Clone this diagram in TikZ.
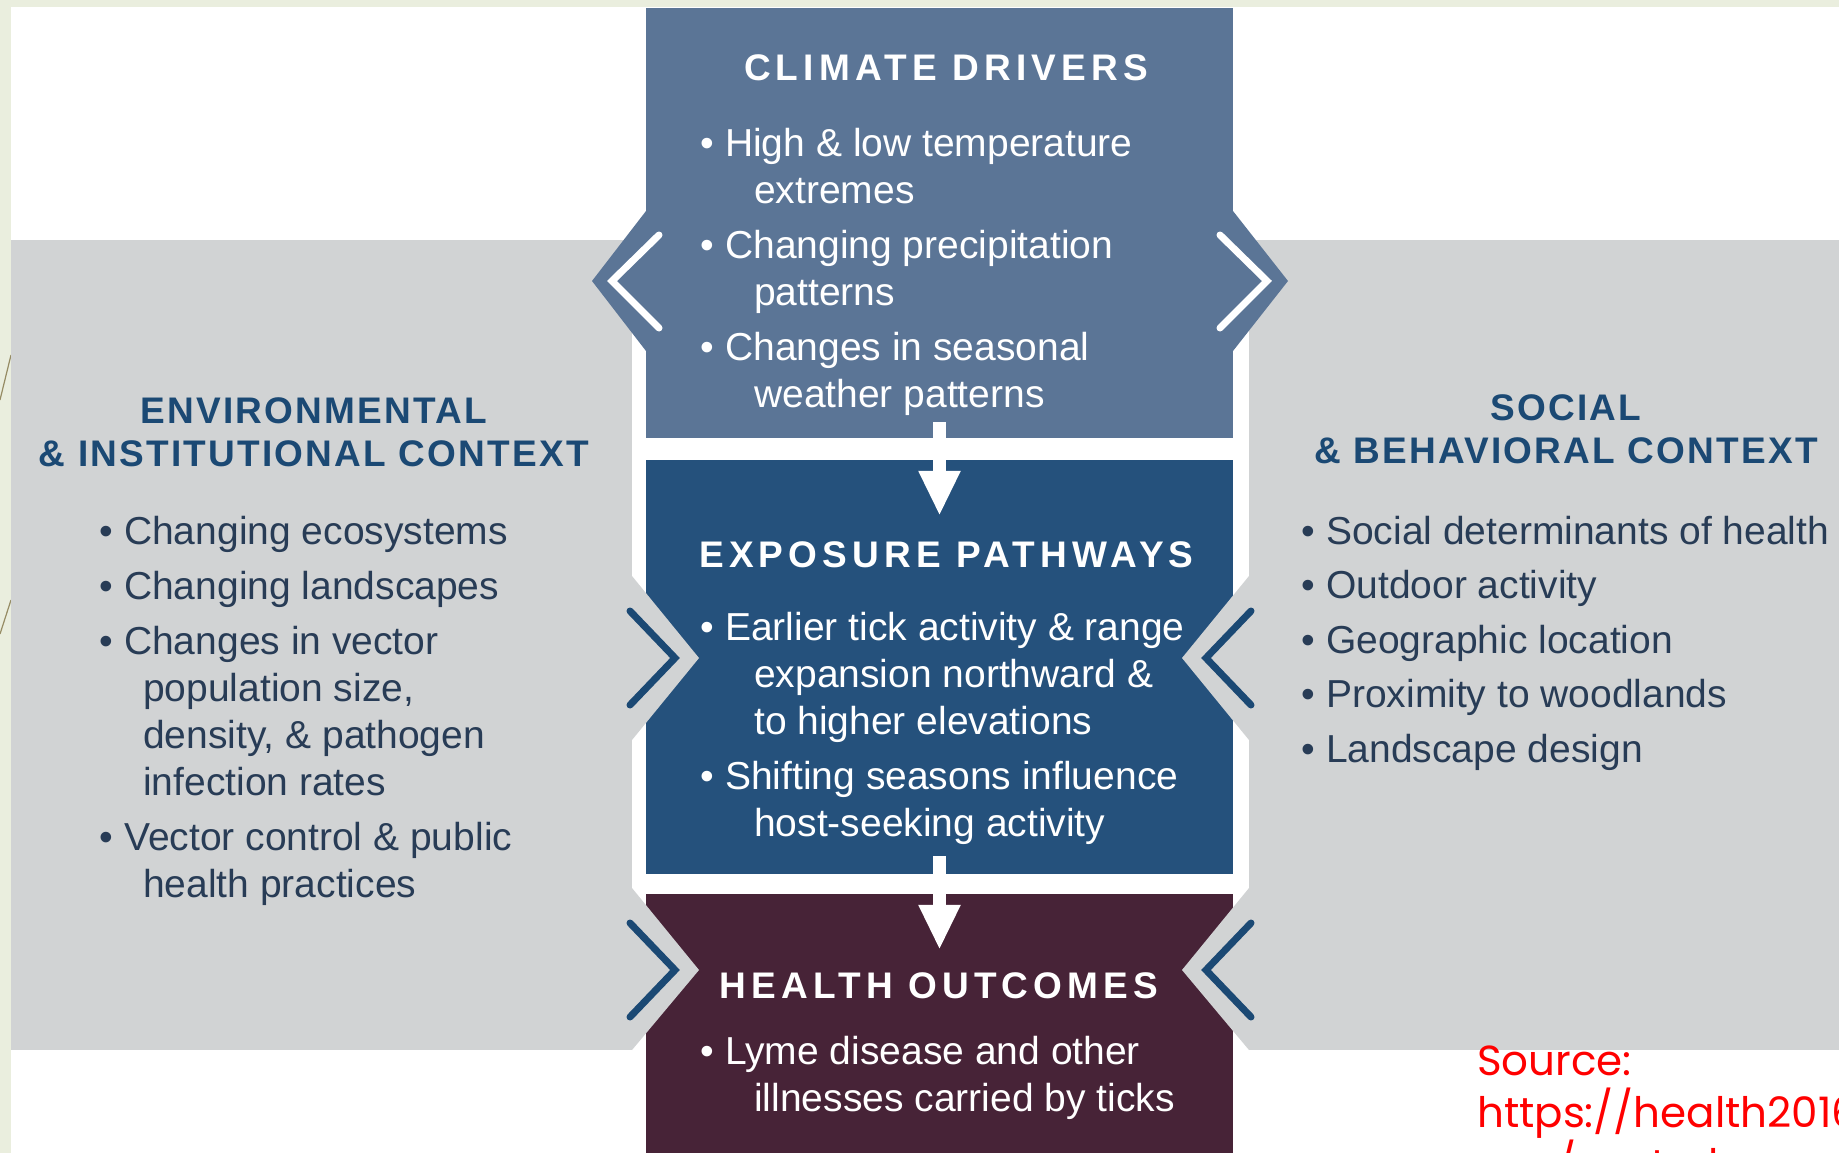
\documentclass[tikz,border=0pt]{standalone}
\usepackage{fontspec}
\setmainfont{Liberation Sans}
\newfontfamily\boxheadfont[LetterSpace=14]{Liberation Sans}
\newfontfamily\sideheadfont[LetterSpace=6]{Liberation Sans}
\newfontfamily\sourcefont{Poppins}
\usetikzlibrary{arrows.meta,positioning,calc}
\definecolor{slidegreen}{RGB}{234,238,222}
\definecolor{slideline}{RGB}{150,140,100}
\definecolor{panelgray}{RGB}{209,211,212}
\definecolor{climblue}{RGB}{91,117,150}
\definecolor{expoblue}{RGB}{37,81,124}
\definecolor{healthplum}{RGB}{71,35,55}
\definecolor{ctxnavy}{RGB}{27,73,116}
\definecolor{ctxink}{RGB}{40,60,86}
\definecolor{sourcered}{RGB}{255,0,0}

\begin{document}
\begin{tikzpicture}[x=1pt,y=-1pt,
  stage/.style={rectangle,inner sep=0pt,minimum width=587pt},
  boxhead/.style={anchor=base,text=white,font=\boxheadfont\bfseries\fontsize{37}{43}\selectfont},
  sidehead/.style={anchor=north,align=center,inner sep=0pt,text=ctxnavy,
                   font=\sideheadfont\bfseries\fontsize{37}{43}\selectfont},
  boxlist/.style={anchor=north west,align=left,inner sep=0pt,text=white,font=\fontsize{39}{47}\selectfont},
  sidelist/.style={boxlist,text=ctxink},
  flow/.style={draw=white,line width=13pt,-{Triangle[length=45pt,width=39pt]}},
  chev/.style={line width=7pt,line cap=round}
]
\useasboundingbox (0,0) rectangle (1839,1153);
\clip (0,0) rectangle (1839,1153);

% slide behind the figure
\fill[slidegreen] (0,0) rectangle (1839,1153);
\fill[white] (11,7) rectangle (1839,1153);
\draw[slideline,line width=1.2pt] (0,400) -- (11,355);
\draw[slideline,line width=1.2pt] (0,634) -- (11,600);

% context panels
\fill[panelgray] (11,240) rectangle (632,1050);
\fill[panelgray] (1249,240) rectangle (1839,1050);

% the three stages
\node[stage,fill=climblue,minimum height=430pt] (clim) at (939.5,223) {};
\node[stage,fill=expoblue,minimum height=414pt] (expo) at (939.5,667) {};
\node[stage,fill=healthplum,minimum height=270pt] (heal) at (939.5,1029) {};

% climate drivers push out into both contexts
\fill[climblue] (646,211) -- (592,281) -- (646,351) -- cycle;
\fill[climblue] (1233,211) -- (1288,281) -- (1233,351) -- cycle;
\draw[chev,white] (659,235) -- (612,281) -- (659,328);
\draw[chev,white] (1220,235) -- (1267,281) -- (1220,328);

% contexts push into exposure and outcomes
\fill[panelgray] (632,576) -- (699,658) -- (632,740) -- cycle;
\fill[panelgray] (1249,576) -- (1182,658) -- (1249,740) -- cycle;
\fill[panelgray] (632,888) -- (699,970) -- (632,1050) -- cycle;
\fill[panelgray] (1249,888) -- (1182,970) -- (1249,1050) -- cycle;
\draw[chev,ctxnavy] (630,611) -- (675,658) -- (630,705);
\draw[chev,ctxnavy] (1251,611) -- (1206,658) -- (1251,705);
\draw[chev,ctxnavy] (630,923) -- (675,970) -- (630,1017);
\draw[chev,ctxnavy] (1251,923) -- (1206,970) -- (1251,1017);

\draw[flow] ([yshift=16pt]clim.south) -- ([yshift=-56pt]expo.north);
\draw[flow] ([yshift=18pt]expo.south) -- ([yshift=-56pt]heal.north);

% stage texts
\node[boxhead] (climhead) at (946,81) {CLIMATE DRIVERS};
\node[boxlist] (climlist) at (700.5,128) {%
  \textbullet\ High \& low temperature\\
  \hspace*{53.5pt}extremes\\[8pt]
  \textbullet\ Changing precipitation\\
  \hspace*{53.5pt}patterns\\[8pt]
  \textbullet\ Changes in seasonal\\
  \hspace*{53.5pt}weather patterns};

\node[boxhead] (expohead) at (946.5,567) {EXPOSURE PATHWAYS};
\node[boxlist] (expolist) at (700.5,612) {%
  \textbullet\ Earlier tick activity \& range\\
  \hspace*{53.5pt}expansion northward \&\\
  \hspace*{53.5pt}to higher elevations\\[8pt]
  \textbullet\ Shifting seasons influence\\
  \hspace*{53.5pt}host-seeking activity};

\node[boxhead] (healhead) at (939,998) {HEALTH OUTCOMES};
\node[boxlist] (heallist) at (700.5,1036) {%
  \textbullet\ Lyme disease and other\\
  \hspace*{53.5pt}illnesses carried by ticks};

% context texts
\node[sidehead] (envhead) at (314,397.5) {ENVIRONMENTAL\\\& INSTITUTIONAL CONTEXT};
\node[sidelist] (envlist) at (99.5,516) {%
  \textbullet\ Changing ecosystems\\[8pt]
  \textbullet\ Changing landscapes\\[8pt]
  \textbullet\ Changes in vector\\
  \hspace*{43.5pt}population size,\\
  \hspace*{43.5pt}density, \& pathogen\\
  \hspace*{43.5pt}infection rates\\[8pt]
  \textbullet\ Vector control \& public\\
  \hspace*{43.5pt}health practices};

\node[sidehead] (sochead) at (1566,394.5) {SOCIAL\\\& BEHAVIORAL CONTEXT};
\node[sidelist] (soclist) at (1301.5,516) {%
  \textbullet\ Social determinants of health\\[7.5pt]
  \textbullet\ Outdoor activity\\[7.5pt]
  \textbullet\ Geographic location\\[7.5pt]
  \textbullet\ Proximity to woodlands\\[7.5pt]
  \textbullet\ Landscape design};

\node[anchor=north west,align=left,inner sep=0pt,text=sourcered,
      font=\sourcefont\fontsize{42}{52}\selectfont] (source) at (1477,1046)
  {Source:\\https://health2016.globalchange.\\gov/vectorborne-disease};
\end{tikzpicture}
\end{document}
